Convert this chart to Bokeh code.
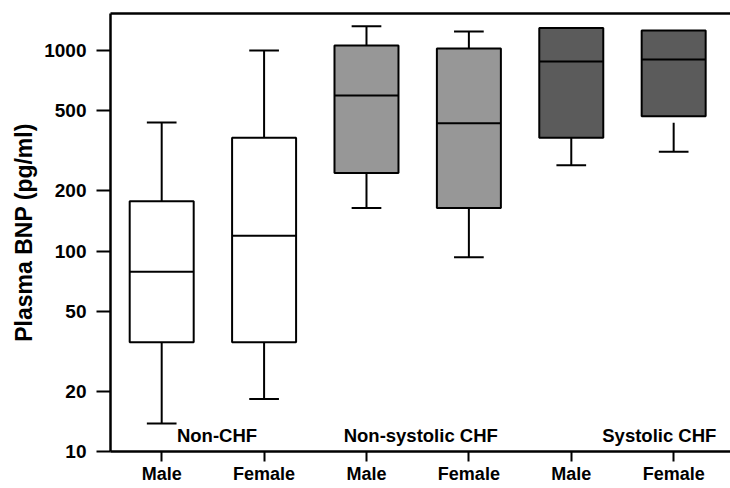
import numpy as np
from bokeh.plotting import figure
from bokeh.models import Range1d, FixedTicker, LinearAxis, ColumnDataSource
from bokeh.core.properties import value
from bokeh.embed import file_html
from bokeh.resources import INLINE

# ---- data ----
x_labels = ["Male", "Female", "Male", "Female", "Male", "Female"]
groups = ["Non-CHF", "Non-systolic CHF", "Systolic CHF"]
group_pos = [1.54, 3.53, 5.86]
q1 = [35.1, 35.1, 245, 164, 367, 470]
median = [78.7, 119, 597, 434, 881, 902]
q3 = [177, 367, 1059, 1023, 1297, 1259]
whisker_hi = [437, 1000, 1321, 1245, None, None]
whisker_lo = [13.8, 18.3, 164, 93, 268, 313]
whisker_lo_from = [35.1, 35.1, 245, 164, 367, 436]
box_colors = ["#ffffff", "#ffffff", "#979797", "#979797", "#5b5b5b", "#5b5b5b"]
y_ticks = [10, 20, 50, 100, 200, 500, 1000]

FONT = "Liberation Sans"
pos = np.arange(1, len(x_labels) + 1, dtype=float)
box_w = 0.625
cap_w = 0.29

p = figure(width=730, height=488, y_axis_type="log",
           x_range=Range1d(0.5, 6.555), y_range=Range1d(10, 1530),
           output_backend="svg", toolbar_location=None,
           min_border_left=110, min_border_right=0, min_border_top=13,
           min_border_bottom=37)
p.outline_line_color = None
p.xgrid.visible = False
p.ygrid.visible = False
p.background_fill_color = "white"

# boxes
src = ColumnDataSource(dict(x=pos, q1=q1, q3=q3, color=box_colors))
p.vbar(x="x", width=box_w, bottom="q1", top="q3", fill_color="color",
       line_color="black", line_width=2, source=src)
# medians
p.segment(x0=pos - box_w / 2, x1=pos + box_w / 2, y0=median, y1=median,
          line_color="black", line_width=2)
# upper whiskers
hi_idx = [i for i, v in enumerate(whisker_hi) if v is not None]
hx = pos[hi_idx]
hq3 = [q3[i] for i in hi_idx]
hv = [whisker_hi[i] for i in hi_idx]
p.segment(x0=hx, x1=hx, y0=hq3, y1=hv, line_color="black", line_width=2)
p.segment(x0=hx - cap_w / 2, x1=hx + cap_w / 2, y0=hv, y1=hv,
          line_color="black", line_width=2)
# lower whiskers
p.segment(x0=pos, x1=pos, y0=whisker_lo_from, y1=whisker_lo,
          line_color="black", line_width=2)
p.segment(x0=pos - cap_w / 2, x1=pos + cap_w / 2, y0=whisker_lo, y1=whisker_lo,
          line_color="black", line_width=2)

# group labels
p.text(x=group_pos, y=[12.0] * len(groups), text=groups,
       text_font=value(FONT), text_font_style="bold", text_font_size="18.5px",
       text_align="center", text_baseline="alphabetic", text_color="black")

# axes
xa = p.xaxis[0]
xa.ticker = FixedTicker(ticks=list(pos))
xa.major_label_overrides = {float(v): lab for v, lab in zip(pos, x_labels)}
xa.major_label_overrides.update({int(v): lab for v, lab in zip(pos, x_labels)})
xa.minor_tick_line_color = None
xa.major_tick_in = 0
xa.major_tick_out = 10
xa.major_label_standoff = 2
xa.axis_line_width = 2.5
xa.major_tick_line_width = 2
xa.major_label_text_font = FONT
xa.major_label_text_font_style = "bold"
xa.major_label_text_font_size = "18px"
xa.major_label_text_color = "black"

ya = p.yaxis[0]
ya.ticker = FixedTicker(ticks=y_ticks)
ya.major_label_overrides = {t: str(t) for t in y_ticks}
ya.minor_tick_line_color = None
ya.major_tick_in = 0
ya.major_tick_out = 14
ya.major_label_standoff = 10
ya.axis_line_width = 2.5
ya.major_tick_line_width = 2
ya.major_label_text_font = FONT
ya.major_label_text_font_style = "bold"
ya.major_label_text_font_size = "19px"
ya.major_label_text_color = "black"
ya.axis_label = "Plasma BNP (pg/ml)"
ya.axis_label_text_font = FONT
ya.axis_label_text_font_style = "bold"
ya.axis_label_text_font_size = "23px"
ya.axis_label_text_color = "black"
ya.axis_label_standoff = 4

top = LinearAxis(major_tick_in=0, major_tick_out=0, minor_tick_in=0, minor_tick_out=0,
                 major_label_text_font_size="0px", major_label_standoff=0,
                 axis_line_width=2.5, ticker=FixedTicker(ticks=[]))
p.add_layout(top, "above")

open("out.html", "w").write(file_html(p, INLINE))
